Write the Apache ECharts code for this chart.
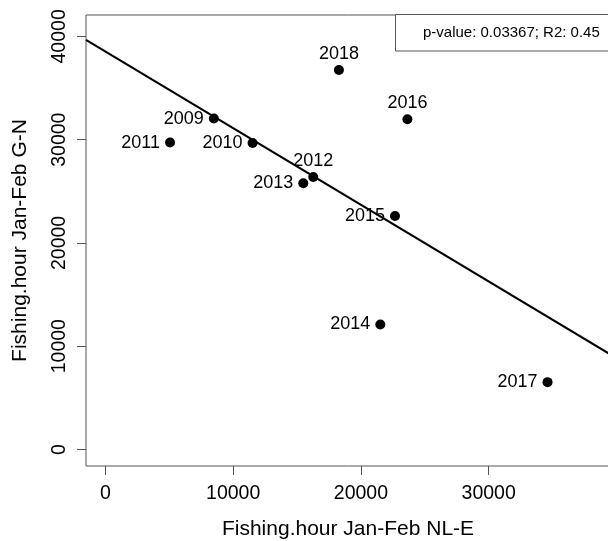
<!DOCTYPE html>
<html>
<head>
<meta charset="utf-8">
<script src="https://cdn.jsdelivr.net/npm/echarts@6/dist/echarts.min.js"></script>
<style>
  html, body { margin: 0; padding: 0; background: #fff; }
  #chart { width: 608px; height: 541px; }
</style>
</head>
<body>
<div id="chart"></div>
<script>
// ---- data ----
const years = ['2009', '2010', '2011', '2012', '2013', '2014', '2015', '2016', '2017', '2018'];
const fishingNLE = [8490, 11520, 5060, 16270, 15490, 21520, 22670, 23640, 34610, 18280];
const fishingGN = [32040, 29680, 29720, 26390, 25780, 12100, 22610, 31980, 6520, 36750];
const xTicks = [0, 10000, 20000, 30000];
const yTicks = [0, 10000, 20000, 30000, 40000];
const statsText = 'p-value: 0.03367; R2: 0.45';
const xTitle = 'Fishing.hour Jan-Feb NL-E';
const yTitle = 'Fishing.hour Jan-Feb G-N';

// ---- layout / style ----
const FONT = "'Liberation Sans', Arial, Helvetica, sans-serif";
const X_MIN = -1520, X_MAX = 39500;
const Y_MIN = -1600, Y_MAX = 42070;
const labelAbove = { '2012': true, '2016': true, '2018': true };

// least-squares fit from the data
const n = fishingNLE.length;
const mx = fishingNLE.reduce((a, b) => a + b, 0) / n;
const my = fishingGN.reduce((a, b) => a + b, 0) / n;
let sxy = 0, sxx = 0;
for (let i = 0; i < n; i++) {
  sxy += (fishingNLE[i] - mx) * (fishingGN[i] - my);
  sxx += (fishingNLE[i] - mx) * (fishingNLE[i] - mx);
}
const slope = sxy / sxx;
const intercept = my - slope * mx;
const fitLine = [X_MIN, X_MAX].map(x => [x, intercept + slope * x]);

const points = years.map((y, i) => ({
  value: [fishingNLE[i], fishingGN[i]],
  name: y,
  label: labelAbove[y] ? { position: 'top', distance: 2 } : { position: 'left', distance: 5 }
}));

const chart = echarts.init(document.getElementById('chart'), null, { renderer: 'canvas' });
chart.setOption({
  animation: false,
  backgroundColor: '#fff',
  textStyle: { fontFamily: FONT },
  grid: {
    left: 86, top: 15, width: 524, height: 451,
    show: true, borderColor: '#555', borderWidth: 1, backgroundColor: 'transparent',
    containLabel: false, outerBoundsMode: 'none'
  },
  xAxis: {
    type: 'value', min: X_MIN, max: X_MAX,
    name: xTitle, nameLocation: 'middle', nameGap: 52.5,
    nameTextStyle: { fontSize: 21, color: '#000', fontFamily: FONT },
    axisLine: { show: false, onZero: false },
    axisTick: { show: true, inside: false, length: 9, lineStyle: { color: '#555', width: 1 }, customValues: xTicks },
    axisLabel: { show: true, margin: 18, fontSize: 19.5, color: '#000', fontFamily: FONT, customValues: xTicks,
                 formatter: v => String(v) },
    splitLine: { show: false }
  },
  yAxis: {
    type: 'value', min: Y_MIN, max: Y_MAX,
    name: yTitle, nameLocation: 'middle', nameGap: 55, nameRotate: 90,
    nameTextStyle: { fontSize: 21, color: '#000', fontFamily: FONT },
    axisLine: { show: false, onZero: false },
    axisTick: { show: true, inside: false, length: 9, lineStyle: { color: '#555', width: 1 }, customValues: yTicks },
    axisLabel: { show: true, margin: 16, rotate: 90, fontSize: 19.5, color: '#000', fontFamily: FONT, customValues: yTicks,
                 formatter: v => String(v) },
    splitLine: { show: false }
  },
  series: [
    {
      type: 'line',
      data: fitLine,
      showSymbol: false,
      symbol: 'none',
      clip: true,
      lineStyle: { color: '#000', width: 2 },
      silent: true,
      z: 2
    },
    {
      type: 'scatter',
      data: points,
      symbol: 'circle',
      symbolSize: 10,
      itemStyle: { color: '#000', opacity: 1 },
      label: {
        show: true,
        formatter: p => p.name,
        fontSize: 18,
        color: '#000',
        fontFamily: FONT
      },
      z: 3
    }
  ],
  graphic: [
    {
      type: 'rect',
      shape: { x: 395.5, y: 14.5, width: 216, height: 36.5 },
      style: { fill: '#fff', stroke: '#555', lineWidth: 1 },
      z: 10
    },
    {
      type: 'text',
      x: 423, y: 33,
      style: { text: statsText, font: '15px ' + FONT, fill: '#000', textVerticalAlign: 'middle', verticalAlign: 'middle' },
      z: 11
    }
  ]
});
</script>
</body>
</html>
